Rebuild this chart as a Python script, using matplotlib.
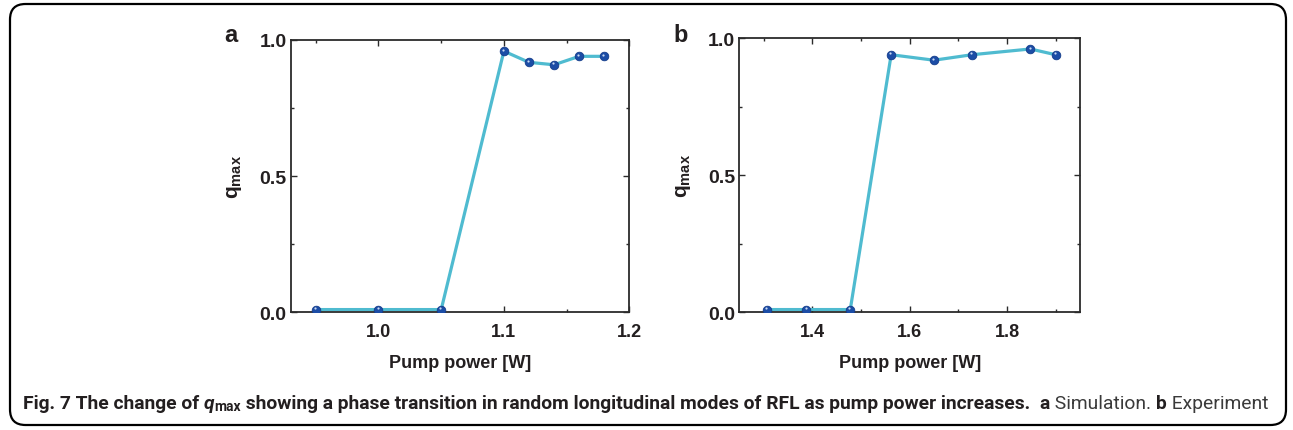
import matplotlib
matplotlib.use("Agg")
import matplotlib.pyplot as plt
from matplotlib.patches import FancyBboxPatch
from matplotlib.ticker import MultipleLocator, FormatStrFormatter
import matplotlib.transforms as mtransforms

# ---- data ----
sim_power = [0.95, 1.00, 1.05, 1.10, 1.12, 1.14, 1.16, 1.18]
sim_qmax = [0.01, 0.01, 0.01, 0.958, 0.917, 0.908, 0.939, 0.939]
exp_power = [1.307, 1.388, 1.478, 1.562, 1.650, 1.728, 1.848, 1.900]
exp_qmax = [0.01, 0.01, 0.01, 0.939, 0.919, 0.939, 0.960, 0.939]
panel_labels = ["a", "b"]
xlabel_text = "Pump power [W]"
ylabel_text = r"$\mathbf{q}_{\mathbf{max}}$"

plt.rcParams["font.family"] = ["Liberation Sans", "DejaVu Sans"]
plt.rcParams["mathtext.fontset"] = "custom"
plt.rcParams["mathtext.bf"] = "Liberation Sans:bold"
plt.rcParams["mathtext.rm"] = "Liberation Sans"

W, H = 1293, 431
fig = plt.figure(figsize=(W / 100, H / 100), dpi=100)

line_c = "#4FBBD0"
mark_c = "#1C4DA6"
spine_c = "#2b2b2b"


def px_box(l, t, r, b):
    return [l / W, (H - b) / H, (r - l) / W, (b - t) / H]


axes_boxes = [px_box(290.7, 40.7, 629.3, 313.3), px_box(739.3, 39.0, 1080.0, 313.3)]
xlims = [(0.93, 1.2), (1.25, 1.95)]
xmajor = [0.1, 0.2]
xminor = [0.05, 0.1]
datasets = [(sim_power, sim_qmax), (exp_power, exp_qmax)]

for i, (box, (xs, ys)) in enumerate(zip(axes_boxes, datasets)):
    ax = fig.add_axes(box)
    ax.plot(xs, ys, color=line_c, lw=2.3, zorder=2, solid_capstyle="round")
    ax.plot(xs, ys, ls="none", marker="o", ms=6.2, mfc=mark_c, mec="#143c8a",
            mew=0.6, zorder=3)
    off = mtransforms.offset_copy(ax.transData, fig=fig, x=-0.6, y=1.0, units="points")
    ax.plot(xs, ys, ls="none", marker="o", ms=1.6, mfc="#c9d8f2", mec="none",
            transform=off, zorder=4)
    ax.set_xlim(*xlims[i])
    ax.set_ylim(0, 1.0)
    ax.xaxis.set_major_locator(MultipleLocator(xmajor[i]))
    ax.xaxis.set_minor_locator(MultipleLocator(xminor[i]))
    ax.yaxis.set_major_locator(MultipleLocator(0.5))
    ax.yaxis.set_minor_locator(MultipleLocator(0.25))
    ax.xaxis.set_major_formatter(FormatStrFormatter("%.1f"))
    ax.yaxis.set_major_formatter(FormatStrFormatter("%.1f"))
    ax.tick_params(which="both", direction="in", top=True, right=True,
                   color=spine_c, width=1.0)
    ax.tick_params(which="major", length=4.5)
    ax.tick_params(axis="x", which="major", pad=8, labelsize=13)
    ax.tick_params(axis="y", which="major", pad=3, labelsize=14)
    ax.tick_params(which="minor", length=2.5)
    for lab in ax.get_xticklabels() + ax.get_yticklabels():
        lab.set_fontweight("bold")
        lab.set_color("#231f20")
    for sp in ax.spines.values():
        sp.set_color(spine_c)
        sp.set_linewidth(1.3)
    ax.set_xlabel(xlabel_text, fontsize=13, fontweight="bold", color="#231f20",
                  labelpad=10)
    ax.set_ylabel(ylabel_text, fontsize=15, color="#231f20", labelpad=11)
    # panel letter
    fig.text((box[0] * W - 66) / W, (H - 35) / H, panel_labels[i], fontsize=17,
             fontweight="bold", color="#231f20", ha="left", va="center")

# rounded frame
frame = FancyBboxPatch((10 / W, 5 / H), 1276 / W, 421 / H,
                       boxstyle="round,pad=0,rounding_size=0.012",
                       transform=fig.transFigure, fill=False, lw=1.6,
                       ec="black", mutation_aspect=W / H)
fig.patches.append(frame)

# caption built from sequential text pieces
cap_parts = [
    ("Fig. 7 The change of ", "bold", "normal", 1.0, 0.0, "#231f20"),
    ("q", "bold", "italic", 1.0, 0.0, "#231f20"),
    ("max", "bold", "normal", 0.72, -4.0, "#231f20"),
    (" showing a phase transition in random longitudinal modes of RFL as pump power increases.  ",
     "bold", "normal", 1.0, 0.0, "#231f20"),
    ("a", "bold", "normal", 1.0, 0.0, "#231f20"),
    (" Simulation. ", "normal", "normal", 1.0, 0.0, "#3a3a3a"),
    ("b", "bold", "normal", 1.0, 0.0, "#231f20"),
    (" Experiment", "normal", "normal", 1.0, 0.0, "#3a3a3a"),
]
cap_family = ["Roboto", "DejaVu Sans"]
cap_left, cap_right, cap_y = 23.0, 1275.0, 402.0

renderer = fig.canvas.get_renderer()


def draw_caption(size, measure_only=False):
    x = cap_left
    texts = []
    for s, wgt, sty, scale, dy, col in cap_parts:
        t = fig.text(x / W, (H - cap_y + dy) / H, s, fontsize=size * scale,
                     fontweight=wgt, fontstyle=sty, family=cap_family,
                     color=col, ha="left", va="center_baseline")
        bb = t.get_window_extent(renderer=renderer)
        x += bb.width
        texts.append(t)
    if measure_only:
        for t in texts:
            t.remove()
    return x - cap_left


base = 14.0
wdt = draw_caption(base, measure_only=True)
size = base * (cap_right - cap_left) / wdt
draw_caption(size)

fig.savefig("out.png", dpi=100)
